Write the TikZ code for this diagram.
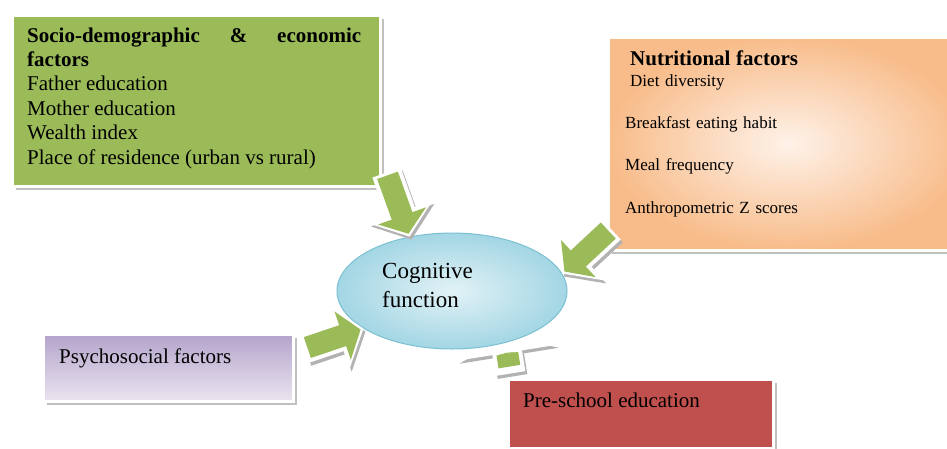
\documentclass[tikz,border=0pt]{standalone}
\usepackage{fontspec}
\setmainfont{Liberation Serif}
\usepackage{tikz}
\usetikzlibrary{arrows.meta,shapes.geometric,shadows,positioning}
\definecolor{leafgreen}{HTML}{9BBB59}
\definecolor{brick}{HTML}{C0504D}
\definecolor{peach}{HTML}{F8BC8A}
\definecolor{peachlight}{HTML}{FEF2E9}
\definecolor{lilac}{HTML}{B4A3CB}
\definecolor{lilaclight}{HTML}{EAE5F0}
\definecolor{skyblue}{HTML}{A3D6E4}
\definecolor{skylight}{HTML}{E2F2F6}
\definecolor{skyedge}{HTML}{7BC0D2}
\tikzset{
    %Define style for boxes
    factor/.style={
           rectangle,
           draw=white, line width=3pt,
           inner sep=0pt,
           anchor=north west,
           drop shadow={shadow xshift=4pt, shadow yshift=-4pt,
                        fill=black!35, opacity=.7}
           },
    %Define style for the texts in the boxes
    boxtext/.style={
           inner sep=0pt,
           anchor=base west,
           align=left,
           font=\fontsize{21}{24.4}\selectfont
           },
    listtext/.style={
           boxtext,
           font=\fontsize{17}{21.5}\selectfont
           }
}

\begin{document}
\begin{tikzpicture}[x=1pt,y=-1pt,
  % Define block arrow style: green head, then white rim head
  bigpil/.style n args={4}{
    draw=leafgreen, line width=22pt,
    shorten <=3pt, shorten >=3pt,
    -{Triangle[width=#1,length=#2]},
    preaction={draw=black!30, line width=30pt,
      shorten <=0pt, shorten >=0pt,
      -{Triangle[width=#3,length=#4]},
      transform canvas={shift={(2pt,-3pt)}}},
    preaction={draw=white, line width=30pt,
      shorten <=0pt, shorten >=0pt,
      -{Triangle[width=#3,length=#4]}}}]
\useasboundingbox[fill=white] (0,0) rectangle (947,448);
 %boxes
\node[factor, fill=leafgreen, minimum width=368, minimum height=171] (soc) at (10.5,13.5) {};
\node[factor, shade, inner color=peachlight, outer color=peach,
      minimum width=360, minimum height=213] (nut) at (606.5,35.5) {};
\node[factor, shade, top color=lilac, bottom color=lilaclight,
      minimum width=250, minimum height=67] (psy) at (41.5,332.5) {};
\node[factor, fill=brick, minimum width=265, minimum height=69] (pre) at (506.5,377.5) {};
 %arrow that goes under the ellipse
\coordinate (pre out) at ([shift={(4,-4)}]pre.north west);
\coordinate (pre tip) at (504,333);
\draw[bigpil={22pt}{1pt}{100pt}{20pt}, shorten >=20pt, shorten <=7pt] (pre out) -- (pre tip);
 %centre
\node[ellipse, shade, inner color=skylight, outer color=skyblue,
      draw=skyedge, line width=1pt, minimum width=230, minimum height=116] (cog) at (452,291) {};
 %arrows into the centre
\coordinate (soc out) at ([shift={(5,-15)}]soc.south east);
\coordinate (nut out) at ([shift={(4,-23)}]nut.south west);
\coordinate (psy out) at ([shift={(10,-19)}]psy.east);
\draw[bigpil={50pt}{19pt}{66pt}{26pt}] (soc out) -- (cog.128);
\draw[bigpil={50pt}{19pt}{66pt}{26pt}] (nut out) -- (cog.9);
\draw[bigpil={50pt}{19pt}{66pt}{26pt}] (psy out) -- (cog.203);
 %texts
\node[boxtext, text width=334, align=justify] (soc text) at ([shift={(16.5,28.5)}]soc.north west)
  {\textbf{Socio-demographic \& economic \mbox{factors}}\\
   Father education\\
   Mother education\\
   Wealth index\\
   Place of residence (urban vs rural)};
\node[listtext, text width=300] (nut text) at ([shift={(18.5,29.5)}]nut.north west)
  {\hspace*{5pt}{\bfseries\fontsize{21}{21.5}\selectfont Nutritional factors}\\
   \hspace*{5pt}Diet diversity\\[20.5pt]
   Breakfast eating habit\\[20.5pt]
   Meal frequency\\[21pt]
   Anthropometric Z scores};
\node[boxtext] (psy text) at ([shift={(17.5,30.5)}]psy.north west) {Psychosocial factors};
\node[boxtext] (pre text) at ([shift={(16.5,29.5)}]pre.north west) {Pre-school education};
\node[boxtext, text width=110, font=\fontsize{23}{29}\selectfont] (cog text)
  at ([shift={(-70,-13)}]cog.center) {Cognitive\\function};
\end{tikzpicture}
\end{document}
